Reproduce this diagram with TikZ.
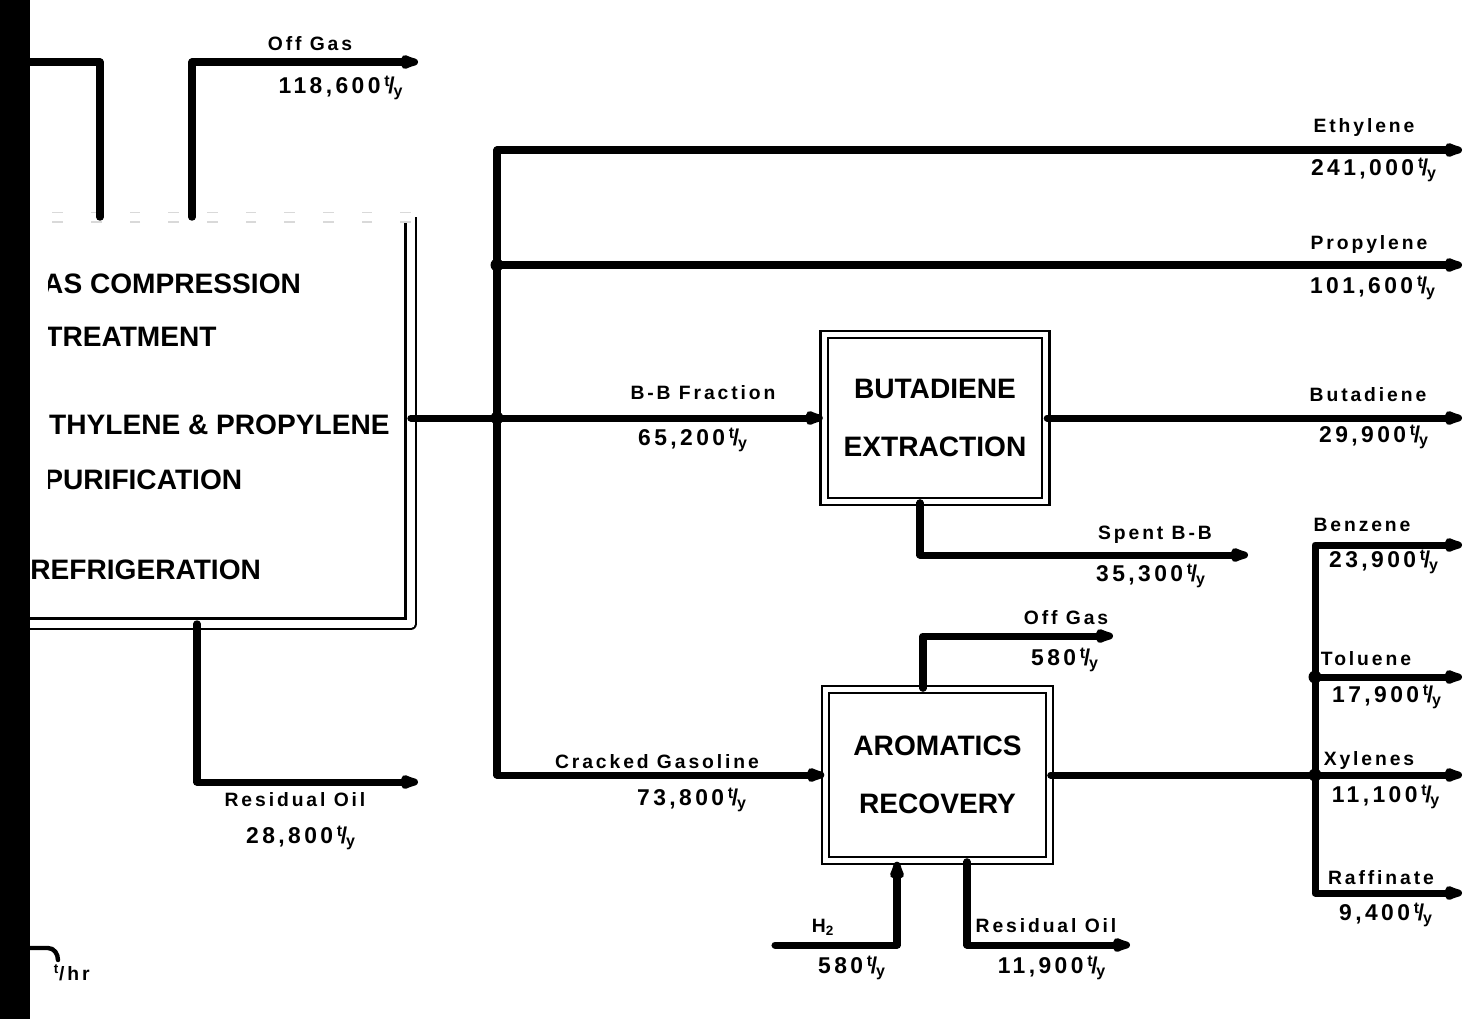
\documentclass[tikz,border=0pt]{standalone}
\usepackage{fontspec}
\setmainfont{Liberation Sans}
\newfontfamily\lblfont{Liberation Sans}[LetterSpace=15]
\usetikzlibrary{arrows.meta}

\newcommand{\tpy}{\,\textsuperscript{t}\kern-.1em/\kern-.05em\textsubscript{y}}

\tikzset{
    flow/.style={line width=4pt, line join=round, line cap=round},
    flowtip/.style={-{Latex[length=7mm,width=3.4mm,round]}},
    procbox/.style={draw, double, line width=1.4pt, double distance=0.1cm,
        align=center, font=\fontsize{16}{33}\selectfont\bfseries},
    boxedge/.style={double, line width=1.4pt, line join=round},
    boxtext/.style={anchor=base west, inner sep=0pt, font=\fontsize{16}{19}\selectfont\bfseries},
    stream/.style={inner sep=0pt, font=\lblfont\fontsize{11}{13}\selectfont\bfseries},
    rate/.style={inner sep=0pt, font=\lblfont\fontsize{13}{15}\selectfont\bfseries},
    jdot/.style={circle, fill, inner sep=0pt, minimum size=0.26cm}
}

\begin{document}
\begin{tikzpicture}[x=0.02cm, y=-0.02cm]
    \useasboundingbox (0,0) rectangle (1477,1019);

    % Gas compression block
    \node[minimum width=9.01cm, minimum height=8.12cm] (gcomp) at (185.25,420.5) {};
    \draw[boxedge, double distance=0.16cm] (gcomp.south west) -- (gcomp.south east) -- (gcomp.north east);
    \draw[boxedge, double distance=0.16cm, black!15, line width=0.8pt, dash pattern=on 6pt off 16pt] (gcomp.north east) -- (gcomp.north west);

    \begin{scope}
        \clip (48,240) rectangle (400,510);
        \node[boxtext] (gc-1) at (21,293) {GAS COMPRESSION};
        \node[boxtext] (gc-2) at (45,346) {TREATMENT};
        \node[boxtext] (gc-3) at (30,434) {ETHYLENE \& PROPYLENE};
        \node[boxtext] (gc-4) at (44,489) {PURIFICATION};
    \end{scope}
    \node[boxtext] (gc-5) at (30,579) {REFRIGERATION};

    % Process units
    \node[procbox, minimum width=4.44cm, minimum height=3.34cm] (butad) at (935,418) {BUTADIENE\\EXTRACTION};
    \node[procbox, minimum width=4.48cm, minimum height=3.42cm] (arom) at (937.5,775) {AROMATICS\\RECOVERY};

    % Coordinates
    \coordinate (feedin) at (30,62);
    \coordinate (feedturn) at (100,62);
    \coordinate (og1turn) at (192,62);
    \coordinate (og1out) at (418,62);
    \coordinate (res1turn) at (197,782);
    \coordinate (res1out) at (418,782);
    \coordinate (jmain) at (497,418);
    \coordinate (jprop) at (497,265);
    \coordinate (ethout) at (1462,150);
    \coordinate (propout) at (1462,265);
    \coordinate (butout) at (1462,418);
    \coordinate (spturn) at (920,555);
    \coordinate (spout) at (1248,555);
    \coordinate (og2turn) at (923,636);
    \coordinate (og2out) at (1113,636);
    \coordinate (h2in) at (775,945);
    \coordinate (h2turn) at (897,945);
    \coordinate (resturn) at (967,945);
    \coordinate (resout) at (1130,945);
    \coordinate (jxyl) at (1315,775);
    \coordinate (jtol) at (1315,677);
    \coordinate (benzout) at (1462,545);
    \coordinate (tolout) at (1462,677);
    \coordinate (xylout) at (1462,775);
    \coordinate (rafout) at (1462,893);
    \coordinate (hookin) at (30,948);

    % Streams
    \draw[flow] (feedin) -- (feedturn) -- (feedturn |- gcomp.north);
    \draw[flow, flowtip] (og1turn |- gcomp.north) -- (og1turn) -- (og1out);
    \draw[flow, flowtip] (gcomp.south -| res1turn) -- (res1turn) -- (res1out);
    \draw[flow] (gcomp.east |- jmain) -- (jmain);
    \draw[flow, flowtip] (jmain) |- (ethout);
    \draw[flow, flowtip] (jprop) -- (propout);
    \draw[flow, flowtip] (jmain) -- (butad.west);
    \draw[flow, flowtip] (jmain) |- (arom.west);
    \draw[flow, flowtip] (butad.east) -- (butout);
    \draw[flow, flowtip] (butad.south -| spturn) -- (spturn) -- (spout);
    \draw[flow, flowtip] (arom.north -| og2turn) -- (og2turn) -- (og2out);
    \draw[flow, flowtip] (h2in) -- (h2turn) -- (h2turn |- arom.south);
    \draw[flow, flowtip] (arom.south -| resturn) -- (resturn) -- (resout);
    \draw[flow] (arom.east) -- (jxyl);
    \draw[flow, flowtip] (jxyl) |- (benzout);
    \draw[flow, flowtip] (jtol) -- (tolout);
    \draw[flow, flowtip] (jxyl) -- (xylout);
    \draw[flow, flowtip] (jxyl) |- (rafout);
    \draw[line width=2.5pt, line cap=round] (hookin) -- ++(18,0) to[out=0, in=90] ++(10,12);

    % Junctions
    \foreach \j in {jprop, jmain, jtol, jxyl}
        \node[jdot] at (\j) {};

    % Stream labels
    \node[stream] (l-og1) at (310,44) {Off Gas};
    \node[rate] (r-og1) at (341,88) {118,600\tpy};
    \node[stream] (l-eth) at (1364,127) {Ethylene};
    \node[rate] (r-eth) at (1374,170) {241,000\tpy};
    \node[stream] (l-prop) at (1369,244) {Propylene};
    \node[rate] (r-prop) at (1373,288) {101,600\tpy};
    \node[stream] (l-but) at (1368,395) {Butadiene};
    \node[rate] (r-but) at (1374,437) {29,900\tpy};
    \node[stream] (l-bb) at (703,393) {B-B Fraction};
    \node[rate] (r-bb) at (693,440) {65,200\tpy};
    \node[stream] (l-sp) at (1155,535) {Spent B-B};
    \node[rate] (r-sp) at (1151,576) {35,300\tpy};
    \node[stream] (l-og2) at (1066,618) {Off Gas};
    \node[rate] (r-og2) at (1065,660) {580\tpy};
    \node[stream] (l-cg) at (657,762) {Cracked Gasoline};
    \node[rate] (r-cg) at (692,800) {73,800\tpy};
    \node[stream] (l-res1) at (295,800) {Residual Oil};
    \node[rate] (r-res1) at (301,838) {28,800\tpy};
    \node[stream] (l-h2) at (823,927) {H\textsubscript{2}};
    \node[rate] (r-h2) at (852,968) {580\tpy};
    \node[stream] (l-res2) at (1046,926) {Residual Oil};
    \node[rate] (r-res2) at (1052,968) {11,900\tpy};
    \node[stream] (l-benz) at (1362,525) {Benzene};
    \node[rate] (r-benz) at (1384,562) {23,900\tpy};
    \node[stream] (l-tol) at (1366,659) {Toluene};
    \node[rate] (r-tol) at (1387,697) {17,900\tpy};
    \node[stream] (l-xyl) at (1369,760) {Xylenes};
    \node[rate] (r-xyl) at (1386,797) {11,100\tpy};
    \node[stream] (l-raf) at (1381,878) {Raffinate};
    \node[rate] (r-raf) at (1386,915) {9,400\tpy};
    \node[stream, anchor=east] (l-hr) at (90,973) {\textsuperscript{t}/hr};

    % Edge of sheet
    \fill (0,0) rectangle (30,1019);

\end{tikzpicture}
\end{document}
